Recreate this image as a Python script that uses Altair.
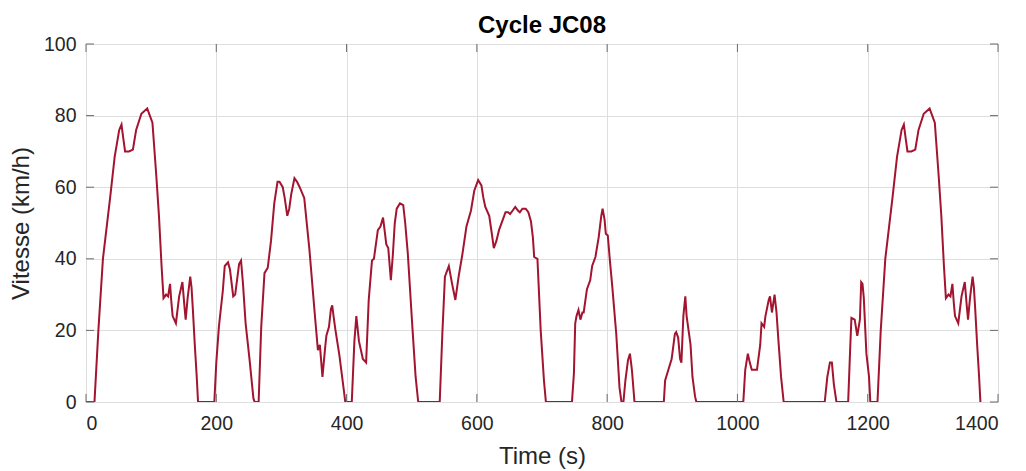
import altair as alt
import pandas as pd

# ---- data ----
time_s = [
    0, 13, 19, 26, 37, 44, 51, 54.5, 57, 60, 66, 72, 77, 85, 94, 98, 102, 108, 112, 116, 119, 123, 126, 129, 131, 133, 138, 143, 148, 151, 153, 156, 160, 162, 164, 167, 170, 172,
    197, 200, 204, 210, 213, 218, 221, 226, 229, 235, 238, 241, 245, 251, 257, 259, 265, 269, 274, 279, 284, 289, 294, 297, 302, 305, 309, 312, 315, 320, 324, 328, 335, 343, 351, 356, 359, 363, 367, 369, 373, 376, 378, 380, 383, 389, 396, 398,
    408, 412, 415, 419, 425, 430, 434, 439, 442, 448, 452, 456, 459, 461, 464, 468, 471, 474, 477, 482, 487, 490, 494, 501, 506, 510,
    543, 547, 551, 557, 562, 567, 572, 578, 584, 591, 596, 602, 607, 610, 613, 619, 623, 626, 630, 634, 640, 644, 648, 651, 655, 659, 663, 666, 670, 675, 679, 683, 686, 688, 693, 698, 703, 706,
    746, 749, 751, 753, 756, 759, 762, 764, 769, 774, 777, 782, 787, 791, 793, 796, 798, 801, 804, 808, 814, 819, 822, 825, 828, 832, 835, 838, 842,
    887, 889, 894, 899, 904, 906, 909, 912, 914, 917, 920, 922, 928, 931, 935, 937,
    1009, 1012, 1016, 1019, 1022, 1030, 1035, 1037, 1041, 1043, 1048, 1050, 1053, 1057, 1060, 1063, 1067, 1071,
    1134, 1138, 1142, 1145, 1148, 1152,
    1170, 1173, 1175, 1180, 1184, 1188, 1190, 1192, 1194, 1198, 1202, 1204,
    1215, 1220, 1227, 1238, 1245, 1252, 1255.5, 1258, 1261, 1267, 1273, 1278, 1286, 1295, 1299, 1303, 1309, 1313, 1317, 1320, 1324, 1327, 1330, 1332, 1334, 1339, 1344, 1349, 1352, 1354, 1357, 1361, 1363, 1365, 1368, 1371, 1373,
]
speed_kmh = [
    0, 0, 20, 40, 57, 68.5, 76, 77.5, 74, 70, 70, 70.5, 76, 80.5, 82, 80, 78, 63, 52, 38, 29, 30, 29.5, 33, 28, 24, 22, 29.5, 33.5, 27, 23, 29, 35, 32, 26, 16, 7, 0,
    0, 11, 21, 31, 38, 39, 37, 29.5, 30, 38.5, 39.5, 33, 22, 12, 1, 0, 0, 21, 36, 37.5, 45, 55.5, 61.5, 61.5, 60, 57, 52, 54, 58, 62.5, 61.5, 60, 57, 42.5, 25, 14.5, 16, 7, 15, 18.5, 21, 26, 27, 24, 20, 13, 3, 0,
    0, 17, 24, 17, 12, 11, 28.5, 39.5, 40, 48, 49, 51.5, 47, 44, 43, 34, 41, 50, 54, 55.5, 55, 50, 41.5, 21, 7, 0,
    0, 19, 35, 38, 33, 28.5, 35, 41.5, 49, 53.5, 59, 62, 60.5, 57, 54.5, 52, 47, 43, 45, 48, 51, 53, 53, 52.5, 53.5, 54.5, 53.5, 53, 54, 54, 53, 50.5, 46, 40.5, 40, 20, 6, 0,
    0, 8, 22, 24, 25.7, 23, 25, 25, 31.5, 34, 38, 40.5, 46, 52, 54, 51, 47, 46.5, 40, 32, 19, 4, 0, 0, 6, 11.7, 13.5, 9, 0,
    0, 6, 9, 12, 19, 19.5, 18, 12, 11, 24, 29.5, 24, 16, 7, 1.5, 0,
    0, 9, 13.5, 11, 9, 9, 16, 22, 21, 24, 28.5, 29.5, 25, 30, 25, 17, 7, 0,
    0, 7, 11, 11, 5, 0,
    0, 14.5, 23.5, 23, 18.5, 23, 33.5, 33, 29, 13.5, 7, 0,
    0, 20, 40, 57, 68.5, 76, 77.5, 74, 70, 70, 70.5, 76, 80.5, 82, 80, 78, 63, 52, 38, 29, 30, 29.5, 33, 28, 24, 22, 29.5, 33.5, 27, 23, 29, 35, 32, 26, 16, 7, 0,
]
x_ticks = [0, 200, 400, 600, 800, 1000, 1200, 1400]
y_ticks = [0, 20, 40, 60, 80, 100]

df = pd.DataFrame({"t": time_s, "v": speed_kmh})
dfx = pd.DataFrame({"t": x_ticks})
dfy = pd.DataFrame({"v": y_ticks})

W, H = 912, 358
FONT = "Liberation Sans"
TXT = "#262626"
BOX = "#6b6b6b"
GRID = "#dedede"

xscale = alt.Scale(domain=[0, 1400], nice=False, zero=False)
yscale = alt.Scale(domain=[0, 100], nice=False)

xaxis = alt.Axis(
    values=x_ticks, format="d", grid=True, gridColor=GRID, domain=False, ticks=False,
    labelFont=FONT, labelFontSize=19.5, labelColor=TXT, labelPadding=12,
    title="Time (s)", titleFont=FONT, titleFontSize=24, titleFontWeight="normal",
    titleColor=TXT, titlePadding=12)
yaxis = alt.Axis(
    values=y_ticks, format="d", grid=True, gridColor=GRID, domain=False, ticks=False,
    labelFont=FONT, labelFontSize=19.5, labelColor=TXT, labelPadding=10,
    title="Vitesse (km/h)", titleFont=FONT, titleFontSize=24, titleFontWeight="normal",
    titleColor=TXT, titlePadding=10)

line = alt.Chart(df).mark_line(color="#A2142F", strokeWidth=2, clip=True).encode(
    x=alt.X("t:Q", scale=xscale, axis=xaxis),
    y=alt.Y("v:Q", scale=yscale, axis=yaxis),
)

TL = 8
xt_bottom = alt.Chart(dfx).mark_rule(color=BOX, strokeWidth=1).encode(
    x=alt.X("t:Q", scale=xscale, axis=xaxis), y=alt.value(H), y2=alt.value(H - TL))
xt_top = alt.Chart(dfx).mark_rule(color=BOX, strokeWidth=1).encode(
    x=alt.X("t:Q", scale=xscale, axis=xaxis), y=alt.value(0), y2=alt.value(TL))
yt_left = alt.Chart(dfy).mark_rule(color=BOX, strokeWidth=1).encode(
    y=alt.Y("v:Q", scale=yscale, axis=yaxis), x=alt.value(0), x2=alt.value(TL))
yt_right = alt.Chart(dfy).mark_rule(color=BOX, strokeWidth=1).encode(
    y=alt.Y("v:Q", scale=yscale, axis=yaxis), x=alt.value(W), x2=alt.value(W - TL))

chart = alt.layer(line, xt_bottom, xt_top, yt_left, yt_right).properties(
    width=W, height=H,
    autosize=alt.AutoSizeParams(type="none"),
    padding={"left": 78, "top": 36, "right": 20, "bottom": 69},
    title=alt.TitleParams("Cycle JC08", font=FONT, fontSize=24, fontWeight="bold",
                          color="#000000", offset=-4),
).configure_view(stroke=BOX, strokeWidth=1).configure(background="white")

chart.save("out.html", embed_options={"renderer": "svg", "actions": False})
